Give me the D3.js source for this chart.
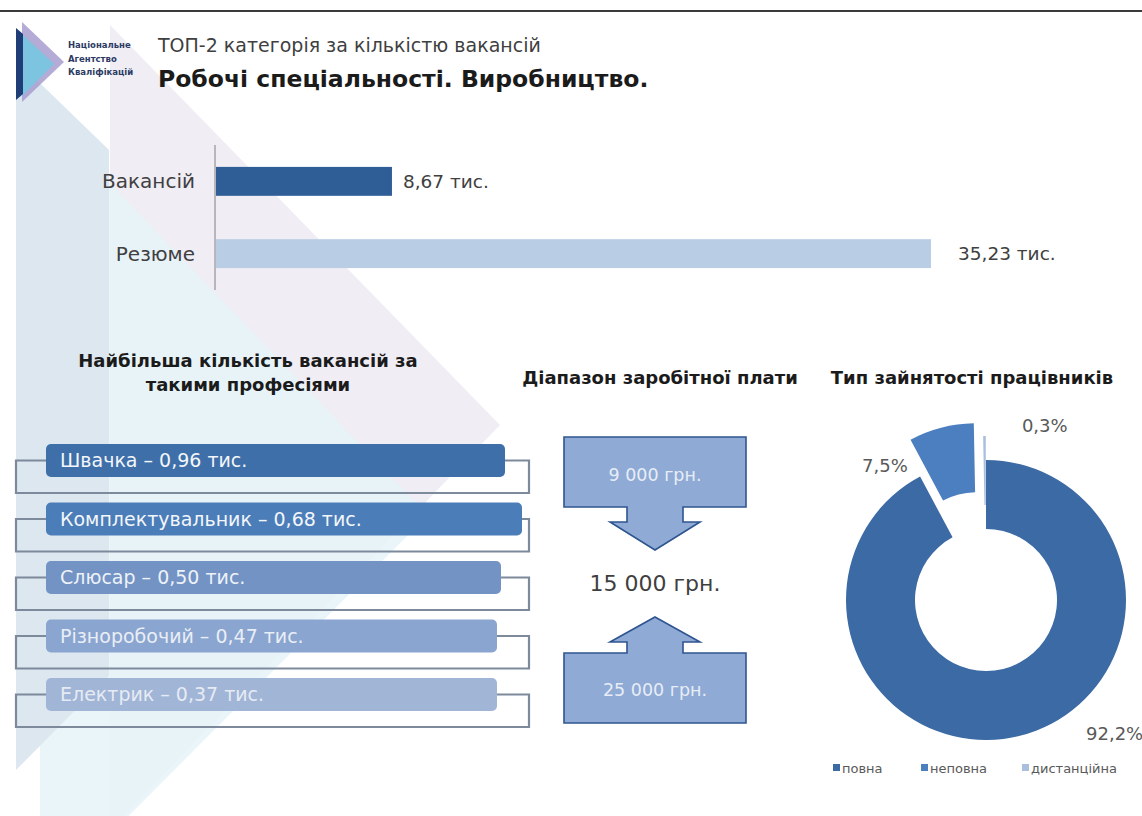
<!DOCTYPE html>
<html>
<head>
<meta charset="utf-8">
<script src="https://cdn.jsdelivr.net/npm/d3@7"></script>
<style>
  body { margin: 0; background: #fff; }
  svg { display: block; }
  text { font-family: "DejaVu Sans", "Noto Sans", sans-serif; }
</style>
</head>
<body>
<svg id="chart" width="1142" height="816"></svg>
<script>
// ---- data ----
var barCats = ["Вакансій", "Резюме"];
var barVals = [8.67, 35.23];

var profNames = ["Швачка", "Комплектувальник", "Слюсар", "Різноробочий", "Електрик"];
var profVals = [0.96, 0.68, 0.50, 0.47, 0.37];

var salaryVals = [9000, 15000, 25000];

var empTypes = ["повна", "неповна", "дистанційна"];
var empShares = [92.2, 7.5, 0.3];

// ---- helpers ----
var comma = function(f){ return function(v){ return d3.format(f)(v).replace(".", ","); }; };
var fmt2 = comma(".2f"), fmt1 = comma(".1f");
var grn = function(v){ return d3.format(",")(v).replace(/,/g, " ") + " грн."; };

var svg = d3.select("#chart");

// background watermark shapes
var bg = svg.append("g");
bg.append("polygon").attr("points", "110,25 500,425 110,830").attr("fill", "#f0edf5");
bg.append("polygon").attr("points", "40,110 428,515 40,905").attr("fill", "#e6f3f8").attr("opacity", 0.85);
bg.append("polygon").attr("points", "16,60 109,150 109,676 16,770").attr("fill", "#dce7f0");

// top rule
svg.append("line").attr("x1", 0).attr("x2", 1142).attr("y1", 11).attr("y2", 11)
  .attr("stroke", "#3a3a3a").attr("stroke-width", 2);

// logo
var logo = svg.append("g");
logo.append("polygon").attr("points", "22,22 64,62 22,102").attr("fill", "#a79ccf").attr("opacity", 0.85);
logo.append("polygon").attr("points", "22,34 54,64 22,96").attr("fill", "#7cc4df");
logo.append("polygon").attr("points", "16,28 23,34 23,94 16,100").attr("fill", "#1f3e78");
["Національне", "Агентство", "Кваліфікацій"].forEach(function(t, i){
  logo.append("text").attr("x", 68).attr("y", 48 + i * 13.5).attr("font-size", 8.5)
    .attr("font-weight", 600).attr("fill", "#2c3a63").text(t);
});

// titles
svg.append("text").attr("x", 158).attr("y", 52).attr("font-size", 19).attr("fill", "#3f3f3f")
  .text("ТОП-2 категорія за кількістю вакансій");
svg.append("text").attr("x", 158).attr("y", 87).attr("font-size", 23.5).attr("font-weight", 700)
  .attr("fill", "#1b1b1b").text("Робочі спеціальності. Виробництво.");

// ---- top bar chart ----
var x = d3.scaleLinear().domain([0, 35.23]).range([215, 930]);
var y = d3.scaleBand().domain(barCats).range([145, 290]).paddingInner(0.6).paddingOuter(0.303);
var barColors = ["#2f5e96", "#b9cde5"];
var valPad = [12, 28];

svg.append("line").attr("x1", x(0)).attr("x2", x(0)).attr("y1", 145).attr("y2", 290)
  .attr("stroke", "#808080").attr("stroke-width", 1);

svg.selectAll(".vbar").data(barVals).join("rect").attr("class", "vbar")
  .attr("x", x(0) + 1).attr("y", function(d, i){ return y(barCats[i]); })
  .attr("width", function(d){ return x(d) - x(0); }).attr("height", y.bandwidth())
  .attr("fill", function(d, i){ return barColors[i]; });

svg.selectAll(".vcat").data(barCats).join("text").attr("class", "vcat")
  .attr("x", 195).attr("y", function(d){ return y(d) + y.bandwidth() / 2; })
  .attr("dy", "0.35em").attr("text-anchor", "end").attr("font-size", 20).attr("fill", "#404040")
  .text(function(d){ return d; });

svg.selectAll(".vval").data(barVals).join("text").attr("class", "vval")
  .attr("x", function(d, i){ return x(d) + valPad[i]; })
  .attr("y", function(d, i){ return y(barCats[i]) + y.bandwidth() / 2; })
  .attr("dy", "0.35em").attr("font-size", 18.5).attr("fill", "#404040")
  .text(function(d){ return fmt2(d) + " тис."; });

// ---- section headings ----
function heading(lines, cx, y0){
  lines.forEach(function(t, i){
    svg.append("text").attr("x", cx).attr("y", y0 + i * 24).attr("text-anchor", "middle")
      .attr("font-size", 18).attr("font-weight", 700).attr("fill", "#1b1b1b").text(t);
  });
}
heading(["Найбільша кількість вакансій за", "такими професіями"], 248, 367);
heading(["Діапазон заробітної плати"], 660, 384);
heading(["Тип зайнятості працівників"], 972, 384);

// ---- professions list ----
var py = d3.scaleBand().domain(profNames).range([444, 444 + 58.5 * 5]);
var rowColors = ["#3f6fa9", "#4b7db9", "#7293c4", "#8aa5cf", "#a1b5d7"];
var rowText = ["#f3f6fa", "#f3f6fa", "#eef2f8", "#e9eef6", "#e6ebf3"];
var rowW = [459, 476, 455, 451, 451];
var barH = 33, left = 46, brL = 16, brR = 529;

var rows = svg.selectAll(".prow").data(profNames).join("g").attr("class", "prow");
rows.append("path")
  .attr("d", function(d, i){
    var cy = py(d) + barH / 2, bot = py(d) + barH + 16;
    return "M" + left + "," + cy + "H" + brL + "V" + bot + "H" + brR + "V" + cy + "H" + (left + rowW[i]);
  })
  .attr("fill", "none").attr("stroke", "#7d8a9c").attr("stroke-width", 2.2);
rows.append("rect")
  .attr("x", left).attr("y", function(d){ return py(d); })
  .attr("width", function(d, i){ return rowW[i]; }).attr("height", barH)
  .attr("rx", 5).attr("fill", function(d, i){ return rowColors[i]; });
rows.append("text")
  .attr("x", left + 14).attr("y", function(d){ return py(d) + barH / 2; }).attr("dy", "0.35em")
  .attr("font-size", 19).attr("fill", function(d, i){ return rowText[i]; })
  .text(function(d, i){ return d + " – " + fmt2(profVals[i]) + " тис."; });

// ---- salary range ----
var scx = 655, bw = 182, stem = 28, head = 45;
var boxFill = "#8eaad5", boxStroke = "#2f5590";
function downArrow(top){
  var l = scx - bw / 2, r = scx + bw / 2, b = top + 70;
  return "M" + l + "," + top + "H" + r + "V" + b + "H" + (scx + stem) + "V" + (b + 15) +
    "H" + (scx + head) + "L" + scx + "," + (b + 43) + "L" + (scx - head) + "," + (b + 15) +
    "H" + (scx - stem) + "V" + b + "H" + l + "Z";
}
function upArrow(tip){
  var l = scx - bw / 2, r = scx + bw / 2, sh = tip + 25, t = tip + 36, b = t + 70;
  return "M" + scx + "," + tip + "L" + (scx + head) + "," + sh + "H" + (scx + stem) + "V" + t +
    "H" + r + "V" + b + "H" + l + "V" + t + "H" + (scx - stem) + "V" + sh + "H" + (scx - head) + "Z";
}
svg.append("path").attr("d", downArrow(437)).attr("fill", boxFill).attr("stroke", boxStroke).attr("stroke-width", 1.6);
svg.append("path").attr("d", upArrow(617)).attr("fill", boxFill).attr("stroke", boxStroke).attr("stroke-width", 1.6);
svg.append("text").attr("x", scx).attr("y", 475).attr("dy", "0.35em").attr("text-anchor", "middle")
  .attr("font-size", 17.5).attr("fill", "#e8edf5").text(grn(salaryVals[0]));
svg.append("text").attr("x", scx).attr("y", 583).attr("dy", "0.35em").attr("text-anchor", "middle")
  .attr("font-size", 22).attr("fill", "#3f3f3f").text(grn(salaryVals[1]));
svg.append("text").attr("x", scx).attr("y", 690).attr("dy", "0.35em").attr("text-anchor", "middle")
  .attr("font-size", 17.5).attr("fill", "#e8edf5").text(grn(salaryVals[2]));

// ---- employment donut ----
var dcx = 986, dcy = 600, rOut = 140, rIn = 71;
var sliceColors = ["#3b6aa4", "#4b7fc0", "#aabfde"];
var explode = [0, 38, 24];
var labelOff = [[103, 31], [-65, 5], [60, -45]];
var pie = d3.pie().sort(null).value(function(d){ return d; });
var arc = d3.arc().innerRadius(rIn).outerRadius(rOut);
var arcs = pie(empShares);
var donut = svg.append("g").attr("transform", "translate(" + dcx + "," + dcy + ")");

donut.selectAll("path").data(arcs).join("path")
  .attr("d", arc)
  .attr("fill", function(d, i){ return sliceColors[i]; })
  .attr("transform", function(d, i){
    var m = (d.startAngle + d.endAngle) / 2;
    return "translate(" + explode[i] * Math.sin(m) + "," + (-explode[i] * Math.cos(m)) + ")";
  });

donut.selectAll("text").data(arcs).join("text")
  .attr("x", function(d, i){
    var m = (d.startAngle + d.endAngle) / 2, r = (rIn + rOut) / 2 + explode[i];
    return r * Math.sin(m) + labelOff[i][0];
  })
  .attr("y", function(d, i){
    var m = (d.startAngle + d.endAngle) / 2, r = (rIn + rOut) / 2 + explode[i];
    return -r * Math.cos(m) + labelOff[i][1];
  })
  .attr("dy", "0.35em").attr("text-anchor", "middle").attr("font-size", 18).attr("fill", "#595959")
  .text(function(d, i){ return fmt1(empShares[i]) + "%"; });

// legend
var legX = [833, 921, 1022];
var leg = svg.selectAll(".leg").data(empTypes).join("g").attr("class", "leg")
  .attr("transform", function(d, i){ return "translate(" + legX[i] + ",768)"; });
leg.append("rect").attr("x", 0).attr("y", -4).attr("width", 7).attr("height", 7)
  .attr("fill", function(d, i){ return sliceColors[i]; });
leg.append("text").attr("x", 9).attr("y", 0).attr("dy", "0.35em").attr("font-size", 13)
  .attr("fill", "#595959").text(function(d){ return d; });
</script>
</body>
</html>
